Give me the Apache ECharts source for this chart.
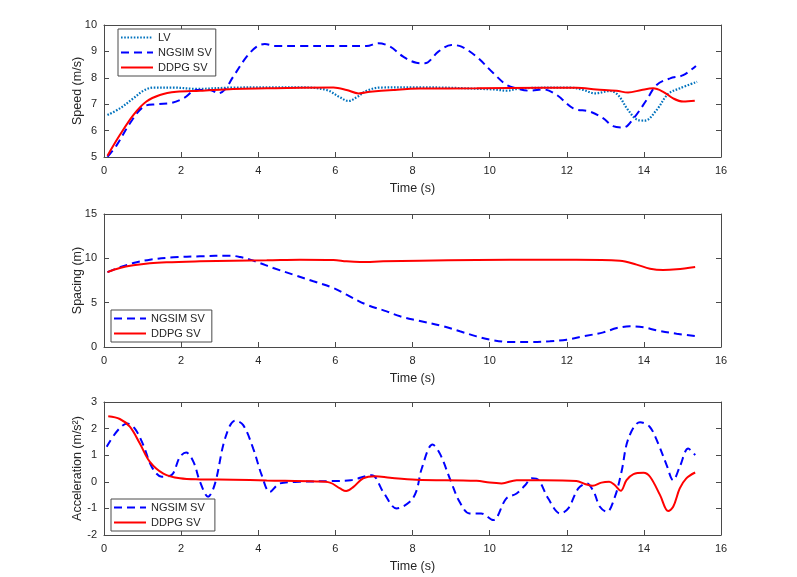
<!DOCTYPE html>
<html>

<head>
  <meta charset="UTF-8">
  <title>LV / NGSIM SV / DDPG SV</title>
  <style>
    html, body { margin: 0; padding: 0; background: #fff; }
  </style>
</head>

<body>
  <div id="main" style="width: 797px; height: 577px;"></div>
  <script src="https://cdn.jsdelivr.net/npm/echarts@6/dist/echarts.min.js"></script>
  <script>
    // Speed (m/s)
    const lvSpeedT = [0.09, 0.41, 0.76, 1.02, 1.28, 1.8, 2.4, 3.35, 5.08, 5.77, 6.12, 6.34, 6.55, 6.81, 7.16, 8.19, 10.1, 10.44, 10.79, 12.08, 12.43, 12.73, 13.12, 13.33, 13.59, 13.85, 14.03, 14.33, 14.63, 14.93, 15.38];
    const lvSpeed = [6.59, 6.84, 7.22, 7.51, 7.63, 7.63, 7.58, 7.63, 7.64, 7.54, 7.26, 7.12, 7.26, 7.51, 7.63, 7.64, 7.56, 7.51, 7.6, 7.63, 7.54, 7.41, 7.5, 7.35, 6.78, 6.4, 6.38, 6.78, 7.39, 7.6, 7.85];

    const ngsimSpeedT = [0.09, 0.33, 0.67, 1.02, 1.37, 1.75, 2.06, 2.4, 2.75, 2.96, 3.14, 3.35, 3.7, 3.96, 4.17, 4.48, 5.08, 5.95, 6.81, 7.11, 7.42, 7.76, 8.1, 8.32, 8.67, 9.01, 9.27, 9.66, 10.1, 10.44, 10.7, 11.05, 11.39, 11.74, 12.17, 12.6, 12.95, 13.2, 13.47, 13.73, 14.07, 14.33, 14.68, 15.02, 15.35];
    const ngsimSpeed = [5.01, 5.45, 6.27, 6.9, 7.0, 7.05, 7.22, 7.54, 7.54, 7.41, 7.56, 8.04, 8.8, 9.18, 9.28, 9.2, 9.2, 9.2, 9.2, 9.31, 9.18, 8.8, 8.57, 8.55, 8.99, 9.24, 9.18, 8.8, 8.17, 7.73, 7.6, 7.51, 7.56, 7.35, 6.84, 6.72, 6.46, 6.17, 6.12, 6.46, 7.16, 7.73, 7.98, 8.1, 8.45];

    const ddpgSpeedT = [0.09, 0.41, 0.76, 1.1, 1.45, 1.88, 2.49, 3.35, 4.22, 5.95, 6.29, 6.6, 6.9, 7.5, 8.19, 9.66, 11.39, 12.25, 12.77, 13.29, 13.59, 13.94, 14.24, 14.5, 14.76, 15.02, 15.32];
    const ddpgSpeed = [5.05, 5.83, 6.59, 7.1, 7.35, 7.47, 7.51, 7.58, 7.6, 7.63, 7.54, 7.41, 7.47, 7.54, 7.59, 7.6, 7.62, 7.62, 7.56, 7.51, 7.44, 7.54, 7.6, 7.47, 7.22, 7.1, 7.13];

    // Spacing (m)
    const ngsimGapT = [0.09, 0.41, 0.76, 1.19, 1.8, 2.49, 3.27, 3.53, 3.79, 4.04, 4.39, 4.91, 5.43, 5.95, 6.29, 6.81, 7.33, 7.68, 8.15, 8.8, 9.23, 9.66, 10.0, 10.53, 11.05, 11.56, 12.0, 12.43, 12.95, 13.3, 13.64, 13.99, 14.33, 14.85, 15.38];
    const ngsimGap = [8.45, 8.98, 9.47, 9.85, 10.11, 10.23, 10.3, 10.15, 9.85, 9.47, 8.91, 8.16, 7.41, 6.65, 5.9, 4.77, 4.02, 3.46, 2.97, 2.33, 1.77, 1.2, 0.83, 0.56, 0.56, 0.64, 0.83, 1.2, 1.65, 2.14, 2.33, 2.22, 1.88, 1.5, 1.22];

    const ddpgGapT = [0.09, 0.41, 0.76, 1.19, 1.62, 2.49, 3.35, 4.22, 5.08, 5.95, 6.29, 6.64, 7.24, 8.19, 9.66, 11.39, 12.25, 13.38, 13.81, 14.16, 14.5, 14.85, 15.33];
    const ddpgGap = [8.45, 8.91, 9.21, 9.44, 9.55, 9.66, 9.74, 9.77, 9.85, 9.81, 9.66, 9.59, 9.66, 9.74, 9.81, 9.85, 9.85, 9.74, 9.29, 8.83, 8.68, 8.76, 9.02];

    // Acceleration (m/s^2)
    const ngsimAccT = [0.07, 0.6, 0.8, 1.02, 1.24, 1.5, 1.75, 1.97, 2.13, 2.32, 2.49, 2.7, 2.88, 3.14, 3.4, 3.61, 3.87, 4.09, 4.3, 4.56, 5.08, 5.95, 6.4, 6.94, 7.24, 7.59, 7.93, 8.1, 8.24, 8.52, 8.71, 9.0, 9.22, 9.48, 9.78, 10.09, 10.43, 10.7, 10.92, 11.09, 11.27, 11.52, 11.83, 12.04, 12.3, 12.52, 12.7, 12.86, 13.04, 13.25, 13.42, 13.6, 13.9, 14.15, 14.37, 14.59, 14.76, 14.93, 15.15, 15.33];
    const ngsimAcc = [1.32, 2.19, 2.0, 1.38, 0.56, 0.19, 0.25, 0.94, 1.1, 0.75, 0.0, -0.56, -0.06, 1.63, 2.3, 2.13, 1.25, 0.25, -0.38, -0.06, 0.0, 0.03, 0.06, 0.25, -0.38, -1.0, -0.75, -0.35, 0.5, 1.4, 1.06, 0.0, -0.75, -1.19, -1.19, -1.44, -0.63, -0.44, -0.13, 0.13, 0.06, -0.63, -1.19, -1.0, -0.25, -0.06, -0.38, -0.94, -1.13, -0.56, 0.38, 1.63, 2.24, 2.07, 1.44, 0.63, 0.06, 0.56, 1.25, 1.0];

    const ddpgAccT = [0.11, 0.41, 0.67, 0.93, 1.19, 1.54, 1.97, 2.49, 3.35, 4.22, 5.52, 5.86, 6.12, 6.28, 6.47, 6.72, 7.03, 7.42, 8.1, 9.66, 10.0, 10.31, 10.7, 11.39, 12.25, 12.47, 12.67, 12.9, 13.1, 13.25, 13.4, 13.55, 13.73, 13.99, 14.16, 14.42, 14.63, 14.76, 14.93, 15.1, 15.33];
    const ddpgAcc = [2.46, 2.36, 2.07, 1.44, 0.75, 0.31, 0.13, 0.09, 0.08, 0.05, 0.01, -0.03, -0.25, -0.35, -0.19, 0.13, 0.21, 0.15, 0.08, 0.04, -0.03, -0.06, 0.06, 0.06, 0.03, -0.08, -0.15, -0.03, 0.0, -0.13, -0.34, 0.06, 0.29, 0.34, 0.19, -0.5, -1.1, -0.94, -0.25, 0.13, 0.35];

    const xTicks = { min: 0, max: 16, interval: 2 };
    const speedTicks = { min: 5, max: 10, interval: 1 };
    const gapTicks = { min: 0, max: 15, interval: 5 };
    const accTicks = { min: -2, max: 3, interval: 1 };

    const zip = (t, v) => t.map((x, i) => [x, v[i]]);

    const axisColor = '#4a4a4a';
    const textColor = '#262626';
    const font = 'Liberation Sans, Arial, sans-serif';

    const grids = [
      { left: 104, width: 617, top: 25, height: 132 },
      { left: 104, width: 617, top: 214, height: 133 },
      { left: 104, width: 617, top: 402, height: 133 }
    ];

    const xAxes = [];
    const yAxes = [];
    const yNames = ['Speed (m/s)', 'Spacing (m)', 'Acceleration (m/s²)'];
    const yRanges = [speedTicks, gapTicks, accTicks];
    const tick = { inside: true, length: 5, lineStyle: { color: axisColor } };
    const axLine = { show: true, onZero: false, lineStyle: { color: axisColor } };

    grids.forEach((g, i) => {
      // bottom axis with labels
      xAxes.push({
        type: 'value', gridIndex: i, position: 'bottom', ...xTicks,
        name: 'Time (s)', nameLocation: 'middle', nameGap: 25, nameMoveOverlap: false,
        nameTextStyle: { color: textColor, fontSize: 12.5, fontFamily: font },
        axisLine: axLine, axisTick: tick,
        axisLabel: { color: textColor, fontSize: 11, fontFamily: font, margin: 8 },
        splitLine: { show: false }
      });
      // top mirrored ticks
      xAxes.push({
        type: 'value', gridIndex: i, position: 'top', ...xTicks,
        axisLine: axLine, axisTick: tick,
        axisLabel: { show: false },
        splitLine: { show: false }
      });
      yAxes.push({
        type: 'value', gridIndex: i, position: 'left', ...yRanges[i],
        name: yNames[i], nameLocation: 'middle', nameGap: 20, nameMoveOverlap: false,
        nameTextStyle: { color: textColor, fontSize: 12.5, fontFamily: font },
        axisLine: axLine, axisTick: tick,
        axisLabel: { color: textColor, fontSize: 11, fontFamily: font, margin: 7 },
        splitLine: { show: false }
      });
      yAxes.push({
        type: 'value', gridIndex: i, position: 'right', ...yRanges[i],
        axisLine: axLine, axisTick: tick,
        axisLabel: { show: false },
        splitLine: { show: false }
      });
    });

    const lvStyle = { color: '#0072BD', width: 2.2, type: [1.6, 1.6] };
    const ngsimStyle = { color: '#0000FF', width: 2, type: [8, 5] };
    const ddpgStyle = { color: '#FF0000', width: 2, type: 'solid' };

    const line = (name, data, style, i) => ({
      name: name, type: 'line', data: data,
      xAxisIndex: i * 2, yAxisIndex: i * 2,
      showSymbol: false, symbol: 'none', smooth: 0.35,
      lineStyle: style, itemStyle: { color: style.color },
      animation: false, z: 3
    });

    const legendBase = {
      orient: 'vertical', backgroundColor: '#fff',
      borderColor: axisColor, borderWidth: 1, borderRadius: 0,
      itemWidth: 32, itemHeight: 10, itemGap: 4,
      itemStyle: { opacity: 0 },
      textStyle: { color: textColor, fontSize: 11, fontFamily: font },
      padding: [3, 4, 3, 2], inactiveColor: '#ccc'
    };

    const option = {
      backgroundColor: '#fff',
      animation: false,
      grid: grids,
      xAxis: xAxes,
      yAxis: yAxes,
      legend: [
        { ...legendBase, left: 118, top: 29, data: ['LV', 'NGSIM SV', 'DDPG SV'] },
        { ...legendBase, left: 111, top: 310, data: ['NGSIM SV ', 'DDPG SV '] },
        { ...legendBase, left: 111, top: 499, data: ['NGSIM SV  ', 'DDPG SV  '] }
      ],
      series: [
        line('LV', zip(lvSpeedT, lvSpeed), lvStyle, 0),
        line('NGSIM SV', zip(ngsimSpeedT, ngsimSpeed), ngsimStyle, 0),
        line('DDPG SV', zip(ddpgSpeedT, ddpgSpeed), ddpgStyle, 0),
        line('NGSIM SV ', zip(ngsimGapT, ngsimGap), ngsimStyle, 1),
        line('DDPG SV ', zip(ddpgGapT, ddpgGap), ddpgStyle, 1),
        line('NGSIM SV  ', zip(ngsimAccT, ngsimAcc), ngsimStyle, 2),
        line('DDPG SV  ', zip(ddpgAccT, ddpgAcc), ddpgStyle, 2)
      ]
    };

    const chart = echarts.init(document.getElementById('main'));
    chart.setOption(option);
  </script>
</body>

</html>
